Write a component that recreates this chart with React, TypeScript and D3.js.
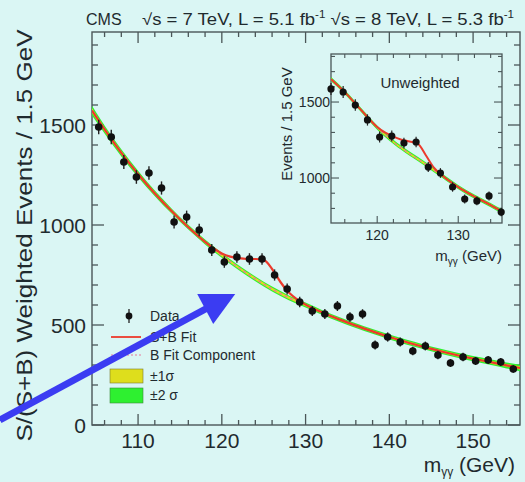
import React from "react";
import * as d3 from "d3";

// ---------- data ----------
const binCenters = [105.3, 106.8, 108.3, 109.8, 111.3, 112.8, 114.3, 115.8, 117.3, 118.8, 120.3, 121.8, 123.3, 124.8, 126.3, 127.8, 129.3, 130.8, 132.3, 133.8, 135.3, 136.8, 138.3, 139.8, 141.3, 142.8, 144.3, 145.8, 147.3, 148.8, 150.3, 151.8, 153.3, 154.8];
const weightedEvents = [1490, 1440, 1315, 1240, 1260, 1185, 1015, 1040, 975, 875, 815, 840, 830, 830, 750, 680, 615, 570, 555, 595, 540, 555, 400, 440, 415, 370, 395, 350, 310, 340, 320, 325, 315, 280];
const weightedErrors = [36, 36, 35, 34, 34, 33, 32, 32, 31, 30, 29, 29, 29, 29, 28, 27, 26, 25, 25, 25, 24, 24, 22, 23, 22, 21, 22, 21, 20, 21, 20, 20, 20, 19];

const bkgMass = [104.5, 106, 108, 110, 112, 114, 116, 118, 120, 122, 124, 126, 128, 130, 132, 134, 136, 138, 140, 142, 144, 146, 148, 150, 152, 154, 155.6];
const bkgFit = [1572, 1478, 1361, 1255, 1158, 1070, 989, 915, 848, 787, 731, 680, 636, 600, 562, 528, 497, 468, 440, 415, 392, 370, 350, 332, 315, 298, 285];
const sigma1 = [12, 10, 9, 8, 7, 7, 6, 6, 6, 6, 6, 6, 6, 6, 6, 6, 6, 6, 6, 6, 6, 6, 6, 6, 7, 7, 8];
const sigma2 = [24, 20, 18, 16, 14, 13, 12, 12, 12, 12, 12, 12, 12, 12, 12, 12, 12, 12, 12, 12, 12, 12, 12, 13, 14, 15, 16];

const sbMass = [104.5, 106, 108, 110, 112, 114, 116, 118, 119, 120, 121, 122, 123, 124, 125, 126, 127, 128, 129, 130, 132, 134, 136, 138, 140, 142, 144, 146, 148, 150, 152, 154, 155.6];
const sbFit = [1572, 1478, 1361, 1255, 1158, 1070, 989, 916, 884, 858, 842, 834, 830, 830, 826, 780, 715, 662, 628, 602, 562, 528, 497, 468, 440, 415, 392, 370, 350, 332, 315, 298, 285];

const insetBins = [114.3, 115.8, 117.3, 118.8, 120.3, 121.8, 123.3, 124.8, 126.3, 127.8, 129.3, 130.8, 132.3, 133.8, 135.3];
const insetEvents = [1586, 1566, 1480, 1382, 1270, 1276, 1230, 1237, 1072, 1033, 941, 862, 849, 882, 776];
const insetErrors = [40, 40, 38, 37, 36, 36, 35, 35, 33, 32, 31, 29, 29, 30, 28];

const insetBkgMass = [114.3, 116, 118, 120, 122, 124, 126, 128, 130, 132, 134, 135.4];
const insetBkgFit = [1650, 1565, 1448, 1332, 1237, 1160, 1090, 1015, 940, 878, 822, 780];
const insetSbMass = [114.3, 116, 118, 120, 121, 122, 123, 124, 125, 126, 127, 128, 130, 132, 134, 135.4];
const insetSbFit = [1650, 1565, 1448, 1336, 1298, 1272, 1252, 1240, 1226, 1150, 1068, 1018, 940, 878, 822, 780];

const mainXTicks = [110, 120, 130, 140, 150];
const mainYTicks = [0, 500, 1000, 1500];
const insetXTicks = [120, 130];
const insetYTicks = [1000, 1500];

const legendLabels = ["Data", "S+B Fit", "B Fit Component", "\u00b11\u03c3", "\u00b12 \u03c3"];

// arrow annotation (data coordinates, main frame)
const arrowTail = [93.5, 25];
const arrowTip = [121.6, 655];

// ---------- styling ----------
const BG = "#daf6f4";
const INK = "#1f2a2e";
const AXIS = "#4a5658";
const RED = "#ec3a2c";
const YEL = "#dede1c";
const GRN = "#2ef030";
const FONT = "'Liberation Sans', Arial, Helvetica, sans-serif";

export default function App() {
  const W = 525, H = 482;
  const x = d3.scaleLinear().domain([104.5, 155.6]).range([92, 520]);
  const y = d3.scaleLinear().domain([0, 1965]).range([425, 32]);
  const ix = d3.scaleLinear().domain([114.3, 135.4]).range([331, 502]);
  const iy = d3.scaleLinear().domain([704, 1816]).range([223, 54]);

  const bkgPts = bkgMass.map((m, i) => ({ m, v: bkgFit[i], s1: sigma1[i], s2: sigma2[i] }));
  const band = (k: "s1" | "s2") =>
    d3.area<any>().x(d => x(d.m)).y0(d => y(d.v - d[k])).y1(d => y(d.v + d[k])).curve(d3.curveMonotoneX)(bkgPts) || "";
  const mainLine = (ms: number[], vs: number[]) =>
    d3.line<number>().x(m => x(m)).y((_, i) => y(vs[i])).curve(d3.curveMonotoneX)(ms) || "";
  const insetLine = (ms: number[], vs: number[]) =>
    d3.line<number>().x(m => ix(m)).y((_, i) => iy(vs[i])).curve(d3.curveMonotoneX)(ms) || "";
  const insetBand = (k: number) =>
    d3.area<number>().x(m => ix(m)).y0((_, i) => iy(insetBkgFit[i] - k * 7)).y1((_, i) => iy(insetBkgFit[i] + k * 7)).curve(d3.curveMonotoneX)(insetBkgMass) || "";

  const [x0, x1] = x.range();
  const [yb, yt] = y.range();
  const xMinor = d3.range(106, 156, 2);
  const yMinor = d3.range(0, 1965, 100);

  const ix0 = 331, ix1 = 502, iyb = 223, iyt = 54;
  const ixMinor = d3.range(116, 136, 2);
  const iyMinor = d3.range(800, 1816, 100);

  // arrow geometry
  const tx = x(arrowTip[0]), ty = y(arrowTip[1]);
  const sx = x(arrowTail[0]), sy = y(arrowTail[1]);

  return (
    <svg width={W} height={H} style={{ position: "absolute", left: 0, top: 0, display: "block" }} fontFamily={FONT}>
      <defs>
        <clipPath id="mainclip"><rect x={x0} y={yt} width={x1 - x0} height={yb - yt} /></clipPath>
        <clipPath id="insetclip"><rect x={ix0} y={iyt} width={ix1 - ix0} height={iyb - iyt} /></clipPath>
      </defs>
      <rect x={0} y={0} width={W} height={H} fill={BG} />

      {/* title */}
      <text x={86} y={25} fontSize={16} fill={INK}>CMS</text>
      <text x={142} y={25} fontSize={16} fill={INK} textLength={372} lengthAdjust="spacingAndGlyphs">
        {"\u221as = 7 TeV, L = 5.1 fb"}<tspan fontSize={10} dy={-7}>-1</tspan>
        <tspan dy={7}>{" \u221as = 8 TeV, L = 5.3 fb"}</tspan><tspan fontSize={10} dy={-7}>-1</tspan>
      </text>

      {/* main frame */}
      <rect x={x0} y={yt} width={x1 - x0} height={yb - yt} fill="none" stroke={AXIS} strokeWidth={1.4} />
      {xMinor.map(t => {
        const major = t % 10 === 0;
        const L = major ? 11 : 5;
        return (
          <g key={"xt" + t} stroke={AXIS} strokeWidth={1.3}>
            <line x1={x(t)} x2={x(t)} y1={yb} y2={yb - L} />
            <line x1={x(t)} x2={x(t)} y1={yt} y2={yt + L} />
          </g>
        );
      })}
      {yMinor.map(t => {
        const major = t % 500 === 0;
        const L = major ? 12 : 6;
        return (
          <g key={"yt" + t} stroke={AXIS} strokeWidth={1.3}>
            <line x1={x0} x2={x0 + L} y1={y(t)} y2={y(t)} />
            <line x1={x1} x2={x1 - L} y1={y(t)} y2={y(t)} />
          </g>
        );
      })}
      {mainXTicks.map(t => (
        <text key={"xl" + t} x={x(t)} y={448} fontSize={21} fill={INK} textAnchor="middle">{t}</text>
      ))}
      {mainYTicks.map(t => (
        <text key={"yl" + t} x={86} y={y(t) + 8} fontSize={21} fill={INK} textAnchor="end">{t}</text>
      ))}
      <text x={515} y={472} fontSize={21} fill={INK} textAnchor="end">
        m<tspan fontSize={12} dy={4}>{"\u03b3\u03b3"}</tspan><tspan dy={-4}>{" (GeV)"}</tspan>
      </text>
      <text transform="translate(32,235.5) rotate(-90)" fontSize={22} fill={INK} textAnchor="middle" textLength={412} lengthAdjust="spacingAndGlyphs">
        S/(S+B) Weighted Events / 1.5 GeV
      </text>

      {/* main curves */}
      <g clipPath="url(#mainclip)">
        <path d={band("s2")} fill={GRN} />
        <path d={band("s1")} fill={YEL} />
        <path d={mainLine(bkgMass, bkgFit)} fill="none" stroke="#e6799a" strokeWidth={1.4} strokeDasharray="3,3" />
        <path d={mainLine(sbMass, sbFit)} fill="none" stroke={RED} strokeWidth={2.2} />
      </g>
      {binCenters.map((m, i) => (
        <g key={"p" + i}>
          <line x1={x(m)} x2={x(m)} y1={y(weightedEvents[i] - weightedErrors[i])} y2={y(weightedEvents[i] + weightedErrors[i])} stroke="#222" strokeWidth={1.4} />
          <circle cx={x(m)} cy={y(weightedEvents[i])} r={3.8} fill="#111" />
        </g>
      ))}

      {/* legend */}
      <g fontSize={14} fill={INK}>
        <line x1={129} x2={129} y1={309} y2={323} stroke="#222" strokeWidth={1.3} />
        <circle cx={129} cy={316} r={3.4} fill="#111" />
        <text x={150} y={321}>{legendLabels[0]}</text>
        <line x1={111} x2={141} y1={337} y2={337} stroke={RED} strokeWidth={1.8} />
        <text x={150} y={342}>{legendLabels[1]}</text>
        <line x1={111} x2={141} y1={355} y2={355} stroke="#e6799a" strokeWidth={1.2} strokeDasharray="2,2" />
        <text x={150} y={360}>{legendLabels[2]}</text>
        <rect x={110} y={369} width={33} height={14} fill={YEL} stroke="#7a7a30" strokeWidth={0.6} />
        <text x={150} y={381}>{legendLabels[3]}</text>
        <rect x={110} y={388} width={33} height={15} fill={GRN} stroke="#3a8a3a" strokeWidth={0.6} />
        <text x={150} y={400}>{legendLabels[4]}</text>
      </g>

      {/* inset */}
      <rect x={ix0} y={iyt} width={ix1 - ix0} height={iyb - iyt} fill={BG} stroke={AXIS} strokeWidth={1.3} />
      {ixMinor.map(t => {
        const major = t % 10 === 0;
        const L = major ? 7 : 4;
        return (
          <g key={"ixt" + t} stroke={AXIS} strokeWidth={1.1}>
            <line x1={ix(t)} x2={ix(t)} y1={iyb} y2={iyb - L} />
            <line x1={ix(t)} x2={ix(t)} y1={iyt} y2={iyt + L} />
          </g>
        );
      })}
      {iyMinor.map(t => {
        const major = t % 500 === 0;
        const L = major ? 8 : 4;
        return (
          <g key={"iyt" + t} stroke={AXIS} strokeWidth={1.1}>
            <line x1={ix0} x2={ix0 + L} y1={iy(t)} y2={iy(t)} />
            <line x1={ix1} x2={ix1 - L} y1={iy(t)} y2={iy(t)} />
          </g>
        );
      })}
      {insetXTicks.map(t => (
        <text key={"ixl" + t} x={ix(t)} y={240} fontSize={14} fill={INK} textAnchor="middle">{t}</text>
      ))}
      {insetYTicks.map(t => (
        <text key={"iyl" + t} x={330} y={iy(t) + 5} fontSize={14} fill={INK} textAnchor="end">{t}</text>
      ))}
      <text x={502} y={261} fontSize={15} fill={INK} textAnchor="end">
        m<tspan fontSize={10} dy={4}>{"\u03b3\u03b3"}</tspan><tspan dy={-4}>{" (GeV)"}</tspan>
      </text>
      <text transform="translate(292,124) rotate(-90)" fontSize={15} fill={INK} textAnchor="middle">
        Events / 1.5 GeV
      </text>
      <text x={420} y={88} fontSize={15} fill={INK} textAnchor="middle">Unweighted</text>
      <g clipPath="url(#insetclip)">
        <path d={insetBand(2)} fill={GRN} />
        <path d={insetBand(1)} fill={YEL} />
        <path d={insetLine(insetBkgMass, insetBkgFit)} fill="none" stroke="#e6799a" strokeWidth={1.2} strokeDasharray="3,3" />
        <path d={insetLine(insetSbMass, insetSbFit)} fill="none" stroke={RED} strokeWidth={2} />
      </g>
      {insetBins.map((m, i) => (
        <g key={"ip" + i}>
          <line x1={ix(m)} x2={ix(m)} y1={iy(insetEvents[i] - insetErrors[i])} y2={iy(insetEvents[i] + insetErrors[i])} stroke="#222" strokeWidth={1.2} />
          <circle cx={ix(m)} cy={iy(insetEvents[i])} r={3.6} fill="#111" />
        </g>
      ))}

      {/* blue arrow annotation */}
      <line x1={sx} y1={sy} x2={tx - 26} y2={ty + 13} stroke="#3b3cf2" strokeWidth={7} />
      <polygon points={`${tx},${ty} ${tx - 38},${ty} ${tx - 22},${ty + 30}`} fill="#3b3cf2" />
    </svg>
  );
}
